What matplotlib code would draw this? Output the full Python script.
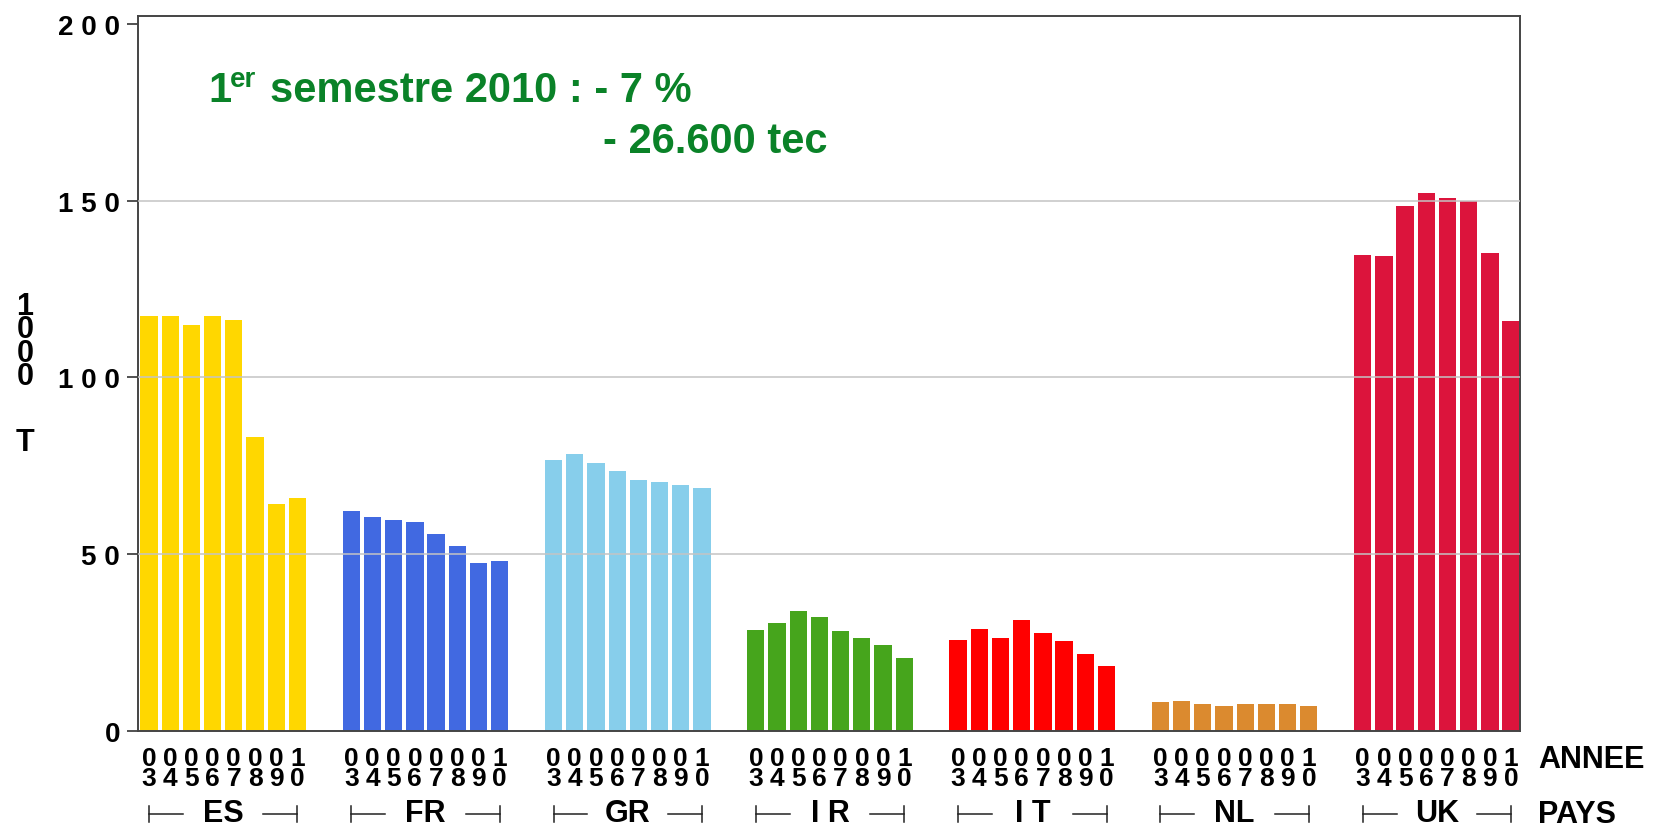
import matplotlib
matplotlib.use("Agg")
import matplotlib.pyplot as plt
import matplotlib.transforms as mtransforms

# data (thousand tonnes per year and country)
countries = ["ES", "FR", "GR", "IR", "IT", "NL", "UK"]
country_labels = ["ES", "FR", "GR", "I R", "I T", "NL", "UK"]
years = ["03", "04", "05", "06", "07", "08", "09", "10"]
es = [117.4, 117.4, 114.9, 117.5, 116.2, 83.2, 64.1, 65.9]
fr = [62.3, 60.5, 59.6, 59.0, 55.7, 52.4, 47.4, 48.0]
gr = [76.6, 78.4, 75.7, 73.6, 70.9, 70.3, 69.5, 68.6]
ir = [28.6, 30.6, 33.9, 32.1, 28.3, 26.2, 24.4, 20.5]
it = [25.6, 28.9, 26.2, 31.3, 27.7, 25.3, 21.7, 18.4]
nl = [8.1, 8.4, 7.5, 7.1, 7.6, 7.5, 7.5, 7.0]
uk = [134.8, 134.3, 148.6, 152.3, 150.7, 150.0, 135.1, 115.9]
colors = ["#FFD700", "#4169E1", "#87CEEB", "#46A51C", "#FF0000", "#DB8A2F", "#DC143C"]
yticks = [0, 50, 100, 150, 200]
ytick_labels = ["0", "5 0", "1 0 0", "1 5 0", "2 0 0"]
gridvals = [50, 100, 150]

plt.rcParams["font.family"] = ["Liberation Sans", "DejaVu Sans"]
plt.rcParams["font.weight"] = "bold"

W, H = 1654, 828
fig = plt.figure(figsize=(W / 100, H / 100), dpi=100)
ax = fig.add_axes([138 / W, 1 - 731.7 / H, (1520 - 138) / W, (731.7 - 16.7) / H])

period = 9.54
width = 0.816
series = [es, fr, gr, ir, it, nl, uk]

for g, vals in enumerate(series):
    xs = [g * period + i for i in range(len(vals))]
    ax.bar(xs, vals, width=width, color=colors[g], linewidth=0, zorder=2)

for v in gridvals:
    ax.axhline(v, color="#c4c4c4", linewidth=1.1, zorder=3)

ax.set_xlim(-0.518, 6 * period + 7 + 0.42)
ax.set_ylim(0, 202.4)
ax.set_xticks([])
ax.set_yticks(yticks)
ax.set_yticklabels(ytick_labels, fontsize=20, fontweight="bold")
ax.tick_params(axis="y", length=8, width=1.2, pad=5, color="#333333")
for s in ax.spines.values():
    s.set_color("#444444")
    s.set_linewidth(1.4)

trans = mtransforms.blended_transform_factory(ax.transData, ax.transAxes)

def ax_y(py):
    return (731.7 - py) / (731.7 - 16.7)

# year labels under each bar (two stacked digits)
for g in range(len(countries)):
    for i, yr in enumerate(years):
        x = g * period + i
        ax.text(x, ax_y(769), yr[0] + "\n" + yr[1], transform=trans, ha="center",
                va="center", fontsize=19, fontweight="bold", linespacing=0.74)
    # country bracket
    x0 = g * period
    x1 = g * period + 7
    yb = ax_y(815)
    kw = dict(transform=trans, color="#222222", linewidth=1.1, clip_on=False)
    ax.plot([x0, x0 + 1.6], [yb, yb], **kw)
    ax.plot([x1 - 1.6, x1], [yb, yb], **kw)
    ax.plot([x0, x0], [ax_y(807), ax_y(823)], **kw)
    ax.plot([x1, x1], [ax_y(807), ax_y(823)], **kw)
    ax.text((x0 + x1) / 2, ax_y(814), country_labels[g], transform=trans,
            ha="center", va="center", fontsize=22, fontweight="bold")

fig.text(1538 / W, 1 - 760 / H, "ANNEE", ha="left", va="center", fontsize=22, fontweight="bold")
fig.text(1538 / W, 1 - 815 / H, "PAYS", ha="left", va="center", fontsize=22, fontweight="bold")

# vertical y label
fig.text(25 / W, 1 - 342 / H, "1\n0\n0\n0", ha="center", va="center",
         fontsize=22, fontweight="bold", linespacing=0.72)
fig.text(25 / W, 1 - 443 / H, "T", ha="center", va="center", fontsize=22, fontweight="bold")

# annotation
green = "#0A8228"
fig.text(208 / W, 1 - 101.7 / H, "1", ha="left", va="baseline", fontsize=30,
         fontweight="bold", color=green)
fig.text(230 / W, 1 - 87 / H, "er", ha="left", va="baseline", fontsize=20,
         fontweight="bold", color=green)
fig.text(270 / W, 1 - 101.7 / H, "semestre 2010 : - 7 %", ha="left", va="baseline",
         fontsize=30, fontweight="bold", color=green)
fig.text(603 / W, 1 - 152.7 / H, "- 26.600 tec", ha="left", va="baseline",
         fontsize=30, fontweight="bold", color=green)

fig.savefig("out.png", dpi=100)
